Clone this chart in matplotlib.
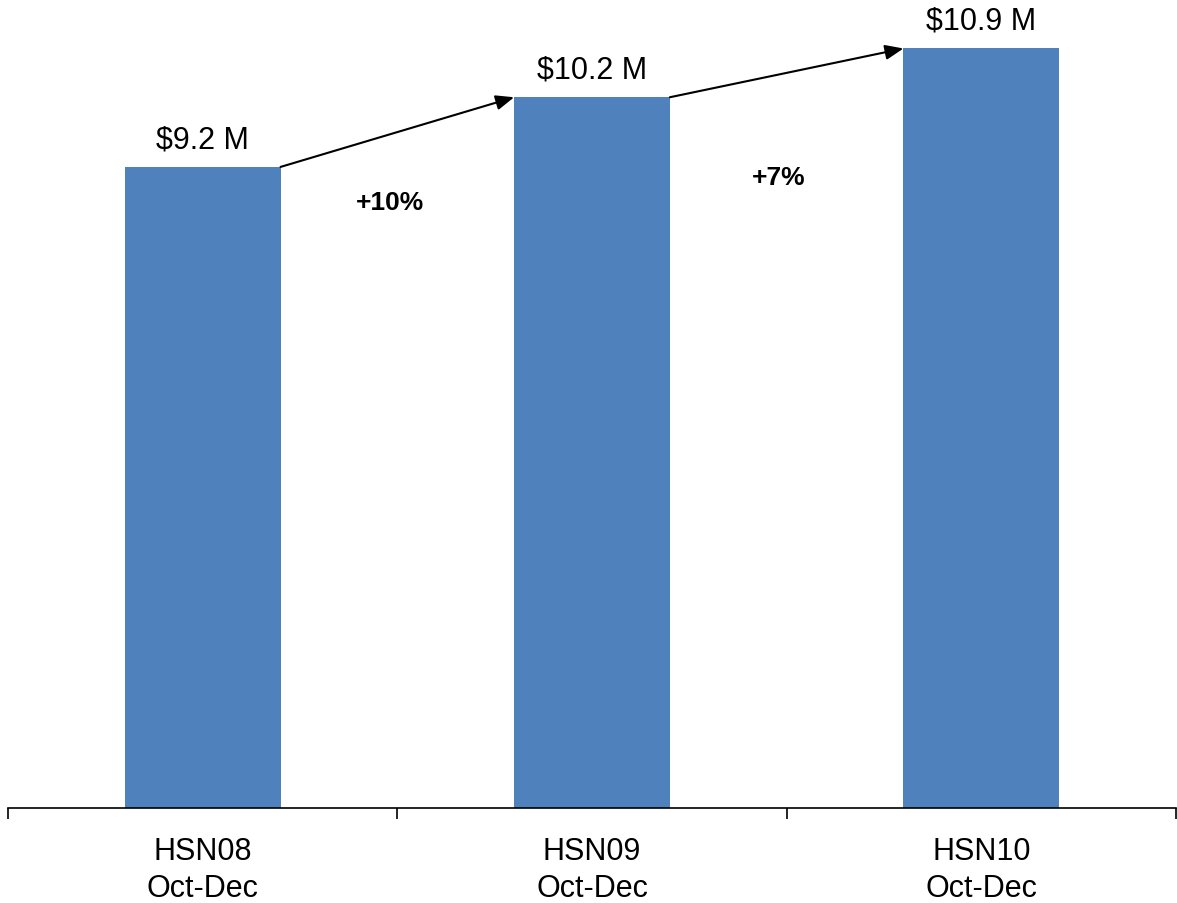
import matplotlib
matplotlib.use("Agg")
import matplotlib.pyplot as plt
from matplotlib.ticker import FixedLocator

plt.rcParams['font.family'] = ['Liberation Sans', 'DejaVu Sans']

# data
categories = ["HSN08\nOct-Dec", "HSN09\nOct-Dec", "HSN10\nOct-Dec"]
revenue = [9.2, 10.2, 10.9]          # $ millions
value_labels = ["$9.2 M", "$10.2 M", "$10.9 M"]
growth_labels = ["+10%", "+7%"]

bar_color = "#4F81BD"
bar_width = 0.4

fig = plt.figure(figsize=(11.77, 9.04), dpi=100)
ax = fig.add_axes([8 / 1177, 95 / 904, 1168 / 1177, 809 / 904])

x = list(range(len(categories)))
ax.bar(x, revenue, width=bar_width, color=bar_color, zorder=2)

ax.set_xlim(-0.5, len(categories) - 0.5)
ax.set_ylim(0, 11.61)

for xi, v, lab in zip(x, revenue, value_labels):
    ax.annotate(lab, (xi, v), xytext=(0, 9), textcoords="offset points",
                ha="center", va="bottom", fontsize=22)

# growth arrows between bar tops
half = bar_width / 2
growth_drop = [1.0, 1.5]
for i, g in enumerate(growth_labels):
    x0, y0 = x[i] + half, revenue[i]
    x1, y1 = x[i + 1] - half, revenue[i + 1]
    ax.annotate("", xy=(x1, y1), xytext=(x0, y0),
                arrowprops=dict(arrowstyle="-|>,head_length=1.1,head_width=0.45",
                                color="black", lw=1.5, shrinkA=0, shrinkB=0))
    ax.text((x0 + x1) / 2 - 0.02, (y0 + y1) / 2 - growth_drop[i], g,
            ha="center", va="center", fontsize=19, fontweight="bold")

for s in ["left", "right", "top"]:
    ax.spines[s].set_visible(False)
ax.spines["bottom"].set_linewidth(1.2)

ax.set_yticks([])
ax.set_xticks(x)
ax.set_xticklabels(categories, fontsize=22, linespacing=1.32)
ax.tick_params(axis="x", which="major", length=0, pad=20)
ax.xaxis.set_minor_locator(FixedLocator([i - 0.5 for i in range(len(categories) + 1)]))
ax.tick_params(axis="x", which="minor", length=8, width=1.2, direction="out")

fig.savefig("out.png", dpi=100)
